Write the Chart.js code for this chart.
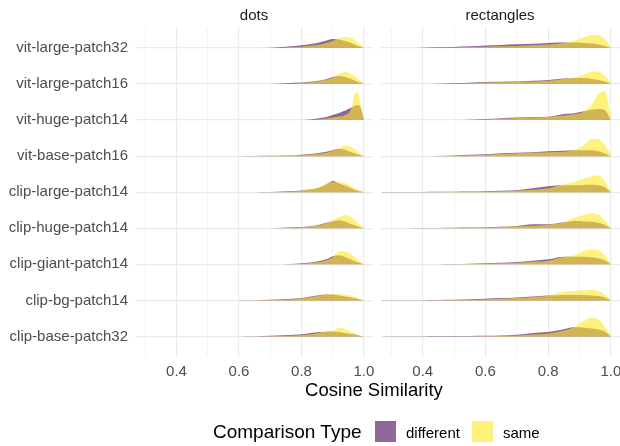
<!DOCTYPE html>
<html>
<head>
<meta charset="utf-8">
<script src="https://cdn.jsdelivr.net/npm/chart.js@4.4.1/dist/chart.umd.min.js"></script>
<style>
  body { margin: 0; background: #fff; font-family: "Liberation Sans", Arial, sans-serif; }
  #wrap { position: relative; width: 620px; height: 446px; overflow: hidden; }
  canvas { position: absolute; top: 0; }
  .txt { position: absolute; white-space: nowrap; transform: translate(-50%, -50%); }
  .lg { position: absolute; white-space: nowrap; transform: translateY(-50%); }
  .key { position: absolute; width: 21px; height: 21px; }
</style>
</head>
<body>
<div id="wrap">
  <canvas id="dots" width="380" height="446" style="left:0"></canvas>
  <canvas id="rects" width="244" height="446" style="left:376px"></canvas>

  <div class="txt" style="left:254px; top:14px; font-size:15px; color:#1a1a1a">dots</div>
  <div class="txt" style="left:500px; top:14px; font-size:15px; color:#1a1a1a">rectangles</div>
  <div class="txt" style="left:374px; top:390px; font-size:18.5px; color:#000">Cosine Similarity</div>

  <div class="lg" style="left:213px; top:432px; font-size:19px; color:#000">Comparison Type</div>
  <div class="key" style="left:375px; top:421px; background:rgba(68,1,84,0.6)"></div>
  <div class="lg" style="left:406px; top:432px; font-size:15px; color:#000">different</div>
  <div class="key" style="left:472px; top:421px; background:rgba(253,231,37,0.6)"></div>
  <div class="lg" style="left:503px; top:432px; font-size:15px; color:#000">same</div>
</div>

<script>
// rows, top to bottom
const models = [
  'vit-large-patch32', 'vit-large-patch16', 'vit-huge-patch14', 'vit-base-patch16',
  'clip-large-patch14', 'clip-huge-patch14', 'clip-giant-patch14', 'clip-bg-patch14',
  'clip-base-patch32'
]

const xTicks = [0.3, 0.4, 0.5, 0.6, 0.7, 0.8, 0.9, 1.0]
const xLabelled = [0.4, 0.6, 0.8, 1.0]

// density heights (1/36 of a row per unit)
const dotsX = [0.60, 0.65, 0.70, 0.74, 0.78, 0.82, 0.85, 0.88, 0.90, 0.92, 0.94, 0.96, 0.97, 0.98, 0.99, 1.00]

const dotsDifferent = [
  [0, 0, 0.2, 1, 2, 3.5, 5, 7.5, 9, 8.5, 7, 5, 3.5, 2, 1, 0],
  [0, 0, 0, 0.5, 1.2, 2, 3, 5, 7, 8, 7, 5, 3.5, 2, 1, 0],
  [0, 0, 0, 0, 0, 0.3, 1.5, 3, 5, 7, 9.5, 12.5, 14, 15, 12, 0],
  [0, 0.1, 0.3, 0.6, 1, 1.8, 2.8, 4.3, 6, 7.3, 6.5, 4, 3, 2, 1, 0],
  [0, 0, 0.1, 0.6, 1.2, 2.5, 4, 8, 11.3, 9, 6.5, 4, 2.5, 1.5, 0.7, 0],
  [0, 0, 0.1, 0.5, 1, 1.8, 3, 5.5, 7, 8, 6.5, 4, 3, 2, 1, 0],
  [0, 0, 0, 0.2, 0.6, 1.5, 2.8, 5, 8, 9, 7, 4.5, 3, 2, 1, 0],
  [0.1, 0.3, 0.7, 1.1, 1.8, 3.5, 5, 6, 6, 5, 4, 3, 2.5, 1.5, 0.8, 0],
  [0.1, 0.3, 0.7, 1.2, 1.8, 3, 4.2, 4.8, 5, 4.5, 3.5, 2.5, 2, 1.3, 0.6, 0]
]

const dotsSame = [
  [0, 0, 0, 0.2, 0.8, 2, 3, 5, 7, 9.5, 11, 10, 8, 5.5, 3, 0.5],
  [0, 0, 0, 0, 0.5, 1.5, 2.5, 4.5, 6.5, 10, 12, 10, 8, 5.5, 3, 0.5],
  [0, 0, 0, 0, 0, 0, 0.5, 1.5, 2.5, 3.5, 5, 12, 26, 28, 14, 1],
  [0, 0, 0.2, 0.4, 0.8, 1.5, 2.3, 3.5, 5.5, 7.5, 10.5, 9, 7, 4.5, 2, 0.3],
  [0, 0, 0, 0.3, 1, 2.5, 4.5, 8.5, 10.5, 10, 9, 6, 4, 2.5, 1, 0],
  [0, 0, 0, 0.2, 0.6, 1.5, 2.8, 5, 8, 11, 13.5, 11, 8, 5, 2.5, 0.3],
  [0, 0, 0, 0, 0.3, 1, 2, 4, 7, 13, 12.5, 10, 7.5, 4.5, 2, 0.3],
  [0, 0, 0.4, 0.8, 1.5, 3, 4.5, 6, 6.3, 6.3, 6, 4.5, 3.5, 2.5, 1, 0],
  [0, 0, 0.2, 0.5, 1, 2, 3.3, 5, 5.5, 8.7, 7.5, 4.5, 3, 2, 1, 0]
]

const rectX = [0.27, 0.30, 0.35, 0.40, 0.45, 0.50, 0.55, 0.60, 0.65, 0.70, 0.75, 0.80, 0.85, 0.88, 0.91, 0.94, 0.96, 0.98, 1.00]

const rectDifferent = [
  [0, 0, 0, 0.2, 0.6, 1, 1.6, 2.5, 3, 3.7, 4.2, 5, 5.3, 5.3, 5, 4.5, 3.5, 2, 0],
  [0, 0, 0, 0, 0.3, 0.8, 1.3, 2, 2.3, 2.5, 3.2, 4, 5.5, 6, 6, 5, 4, 2.5, 0],
  [0, 0, 0, 0, 0, 0, 0.3, 1, 1.8, 2.5, 3, 3.2, 6, 6.5, 8.5, 10.5, 11, 10, 0],
  [0, 0, 0, 0, 0.2, 0.7, 1.3, 2, 2.8, 3.5, 4, 5, 5.3, 6, 6, 6, 5, 3, 0],
  [0.1, 0.2, 0.3, 0.3, 0.4, 0.5, 0.7, 1, 1.5, 2, 4, 6, 7, 7, 7.3, 7.5, 7, 5, 0],
  [0, 0, 0.1, 0.2, 0.3, 0.5, 0.7, 1, 1.6, 2.3, 4, 4, 6, 7.3, 7, 6.5, 5.5, 3.5, 0],
  [0, 0, 0, 0, 0.1, 0.3, 0.6, 1, 1.5, 2.3, 3.5, 5, 7.7, 7.7, 7.5, 7, 6, 4, 0],
  [0.1, 0.2, 0.3, 0.3, 0.5, 0.7, 1.1, 1.7, 2.3, 3, 4, 5, 5.5, 5.5, 5.5, 5, 4.5, 3, 0],
  [0.1, 0.2, 0.3, 0.3, 0.4, 0.5, 0.6, 0.7, 1, 1.7, 3.5, 4.5, 7.3, 9.3, 9, 8, 7, 5, 0]
]

const rectSame = [
  [0, 0, 0, 0, 0.2, 0.5, 0.8, 1.2, 1.6, 2, 2.7, 3.5, 5, 7, 10, 13, 13, 9, 1],
  [0, 0, 0, 0, 0, 0.3, 0.8, 1.5, 1.8, 2, 2.5, 3.3, 5, 6.5, 9, 12.5, 12.5, 8, 1.5],
  [0, 0, 0, 0, 0, 0, 0, 0.5, 1.2, 2, 2.5, 3, 4.5, 5.5, 8, 16, 26, 29, 3],
  [0, 0, 0, 0, 0, 0.5, 1, 1.5, 2.2, 3, 3.5, 4, 4.5, 6, 10, 17, 17, 11, 2],
  [0, 0, 0, 0, 0, 0.2, 0.3, 0.5, 1, 1.5, 2.5, 4, 8, 10, 13, 16, 17, 11, 1],
  [0, 0, 0, 0, 0, 0.2, 0.4, 0.7, 1.3, 2, 2.5, 3.5, 6, 10, 13, 15, 13.5, 8, 1],
  [0, 0, 0, 0, 0, 0.2, 0.4, 0.7, 1.1, 1.7, 2.5, 3.5, 7.5, 8.5, 13, 15, 14, 9, 1],
  [0, 0, 0, 0, 0.1, 0.3, 0.6, 1, 1.6, 2.3, 3.5, 4.7, 9, 9.5, 10, 10.7, 9.5, 6, 1],
  [0, 0, 0, 0, 0, 0, 0.1, 0.3, 0.6, 1, 2, 3, 6, 9, 15, 18.7, 17, 10, 1]
]

const ridgeScale = 1 / 36
const diffColor = 'rgba(68, 1, 84, 0.6)'
const sameColor = 'rgba(253, 231, 37, 0.6)'
const gridMajor = '#ebebeb'
const gridMinor = '#f3f3f3'
const tickColor = '#4d4d4d'
const font = '"Liberation Sans", Arial, sans-serif'

function ridge(xs, heights, row, color, order) {
  const base = models.length - 1 - row
  return {
    data: xs.map((x, j) => ({ x: x, y: base + heights[j] * ridgeScale })),
    fill: { value: base },
    backgroundColor: color,
    borderColor: 'rgba(0,0,0,0)',
    borderWidth: 0,
    pointRadius: 0,
    cubicInterpolationMode: 'monotone',
    order: order
  }
}

function buildDatasets(xs, different, same) {
  const sets = []
  models.forEach((m, i) => {
    sets.push(ridge(xs, different[i], i, diffColor, 2))
    sets.push(ridge(xs, same[i], i, sameColor, 1))
  })
  return sets
}

function isLabelled(v) {
  return xLabelled.some(t => Math.abs(t - v) < 1e-6)
}

function makeChart(id, datasets, showY, padding, yWidth) {
  return new Chart(document.getElementById(id), {
    type: 'line',
    data: { datasets: datasets },
    options: {
      responsive: false,
      animation: false,
      layout: { padding: padding },
      plugins: { legend: { display: false }, tooltip: { enabled: false } },
      scales: {
        x: {
          type: 'linear',
          min: 0.267,
          max: 1.029,
          afterBuildTicks: s => { s.ticks = xTicks.map(v => ({ value: v })) },
          afterFit: s => { s.height = 89.3; s.paddingLeft = 0; s.paddingRight = 0 },
          border: { display: false },
          grid: {
            drawTicks: false,
            color: ctx => (ctx.tick && isLabelled(ctx.tick.value)) ? gridMajor : gridMinor,
            lineWidth: ctx => (ctx.tick && isLabelled(ctx.tick.value)) ? 1.2 : 1
          },
          ticks: {
            padding: 6,
            maxRotation: 0,
            autoSkip: false,
            color: tickColor,
            font: { family: font, size: 15 },
            callback: v => isLabelled(v) ? v.toFixed(1) : ''
          }
        },
        y: {
          type: 'linear',
          min: -0.56,
          max: 8.58,
          afterBuildTicks: s => { s.ticks = models.map((m, i) => ({ value: i })) },
          afterFit: s => { s.width = yWidth; s.paddingTop = 0; s.paddingBottom = 0 },
          border: { display: false },
          grid: { drawTicks: false, color: gridMajor, lineWidth: 1.2 },
          ticks: {
            display: showY,
            padding: 7,
            autoSkip: false,
            color: tickColor,
            font: { family: font, size: 15 },
            callback: v => models[models.length - 1 - v]
          }
        }
      }
    }
  })
}

makeChart('dots', buildDatasets(dotsX, dotsDifferent, dotsSame), true,
  { top: 27, right: 7, left: 0, bottom: 0 }, 135)
makeChart('rects', buildDatasets(rectX, rectDifferent, rectSame), false,
  { top: 27, right: 0, left: 5, bottom: 0 }, 0)
</script>
</body>
</html>
